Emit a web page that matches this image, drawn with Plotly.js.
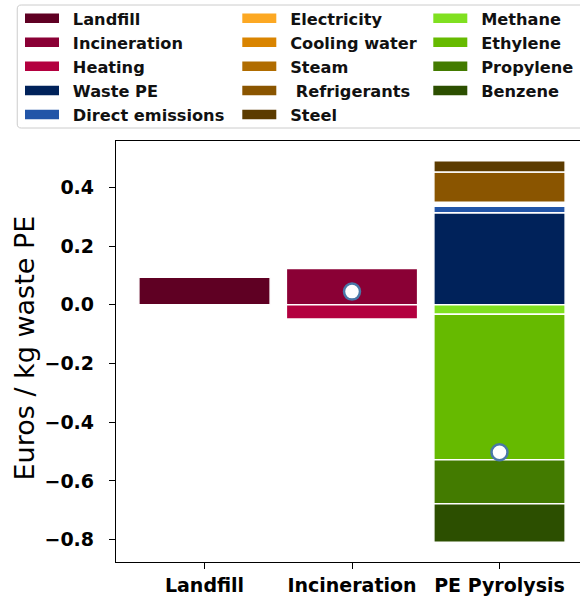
<!DOCTYPE html>
<html>
<head>
<meta charset="utf-8">
<script src="https://cdn.plot.ly/plotly-3.0.1.min.js"></script>
<style>
html, body { margin:0; padding:0; overflow:hidden; background:#fff; }
#chart { width:600px; height:597px; }
</style>
</head>
<body>
<div id="chart"></div>
<script>
// Categories (x axis)
const categories = ['Landfill', 'Incineration', 'PE Pyrolysis'];

// Cost components, Euros / kg waste PE, per category (null = not present)
const landfill        = [0.094, null, null];
const incineration    = [null, 0.124, null];
const heating         = [null, -0.048, null];
const wastePE         = [null, null, 0.314];
const directEmissions = [null, null, 0.022];
const electricity     = [null, null, 0.005];
const coolingWater    = [null, null, 0.004];
const steam           = [null, null, 0.004];
const refrigerants    = [null, null, 0.103];
const steel           = [null, null, 0.039];
const methane         = [null, null, -0.032];
const ethylene        = [null, null, -0.496];
const propylene       = [null, null, -0.150];
const benzene         = [null, null, -0.131];

// Net markers (white dots)
const netCategories = ['Incineration', 'PE Pyrolysis'];
const netValues     = [0.045, -0.502];

// Labels
const yTitle = 'Euros / kg waste PE';
const names = ['Landfill', 'Incineration', 'Heating', 'Waste PE', 'Direct emissions',
               'Electricity', 'Cooling water', 'Steam', ' Refrigerants', 'Steel',
               'Methane', 'Ethylene', 'Propylene', 'Benzene'];
const seriesValues = [landfill, incineration, heating, wastePE, directEmissions,
                      electricity, coolingWater, steam, refrigerants, steel,
                      methane, ethylene, propylene, benzene];
const colors = ['#5f0023', '#8a0035', '#b3003f', '#00225a', '#2255a8',
                '#fca823', '#d98400', '#b06c00', '#8a5500', '#5c3b00',
                '#80e020', '#66ba00', '#437b00', '#2c4f00'];
const legendIds = ['legend','legend','legend','legend','legend',
                   'legend2','legend2','legend2','legend2','legend2',
                   'legend3','legend3','legend3','legend3'];

const pad = '\u00a0\u2009';
const traces = [];
seriesValues.forEach((vals, i) => {
  traces.push({
    type: 'bar', x: categories, y: vals, name: names[i],
    width: 0.89, legendgroup: 'g' + i, showlegend: false,
    marker: { color: colors[i], line: { color: '#ffffff', width: 1.5 } },
    hoverinfo: 'x+y+name'
  });
});
// legend swatches (wide rectangles)
seriesValues.forEach((vals, i) => {
  traces.push({
    type: 'scatter', mode: 'lines', x: [null], y: [null],
    name: pad + names[i].replace(/^ /, '\u00a0'),
    legendgroup: 'g' + i, legend: legendIds[i], showlegend: true,
    line: { color: colors[i], width: 9.5 }, hoverinfo: 'skip'
  });
});
traces.push({
  type: 'scatter', mode: 'markers', x: netCategories, y: netValues,
  showlegend: false, name: 'Net',
  marker: { size: 16, color: '#ffffff', line: { color: '#4a78a8', width: 2.5 } }
});

const legendFont = { family: 'DejaVu Sans', size: 16.2, weight: 'bold', color: '#111' };
const legendBase = {
  xref: 'container', yref: 'container', xanchor: 'left', yanchor: 'top',
  bgcolor: 'rgba(0,0,0,0)', borderwidth: 0, font: legendFont,
  itemwidth: 34, tracegroupgap: 0, orientation: 'v', itemclick: false
};

const plotLeft = 116, plotWidth = 471.7, plotBottom = 562, plotHeight = 421;
const px = v => (v - plotLeft) / plotWidth;
const py = v => (plotBottom - v) / plotHeight;
const bx0 = px(17.3), bx1 = px(598), by0 = py(128), by1 = py(5);
const rx = 4 / plotWidth, ry = 4 / plotHeight;
const boxPath = `M${bx0 + rx},${by1} L${bx1 - rx},${by1} Q${bx1},${by1} ${bx1},${by1 - ry} ` +
  `L${bx1},${by0 + ry} Q${bx1},${by0} ${bx1 - rx},${by0} L${bx0 + rx},${by0} ` +
  `Q${bx0},${by0} ${bx0},${by0 + ry} L${bx0},${by1 - ry} Q${bx0},${by1} ${bx0 + rx},${by1} Z`;

const tickFont = { family: 'DejaVu Sans', size: 19, weight: 'bold', color: '#000' };

const layout = {
  width: 600, height: 597,
  margin: { l: 116, r: 600 - 116 - plotWidth, t: 141, b: 35, pad: 0, autoexpand: false },
  barmode: 'relative',
  paper_bgcolor: '#ffffff', plot_bgcolor: '#ffffff',
  showlegend: true,
  legend:  Object.assign({}, legendBase, { x: 20 / 600, y: 1 - 1.2 / 597 }),
  legend2: Object.assign({}, legendBase, { x: 237.3 / 600, y: 1 - 1.2 / 597 }),
  legend3: Object.assign({}, legendBase, { x: 428.3 / 600, y: 1 - 1.2 / 597 }),
  xaxis: {
    type: 'category', categoryorder: 'array', categoryarray: categories,
    range: [-0.6, 2.6], showgrid: false, zeroline: false,
    showline: true, linecolor: '#000', linewidth: 1.3, mirror: true,
    ticks: 'outside', ticklen: 6, tickwidth: 1.3, tickcolor: '#000',
    tickfont: tickFont, automargin: false
  },
  yaxis: {
    range: [-0.876, 0.558], showgrid: false, zeroline: false,
    showline: true, linecolor: '#000', linewidth: 1.3, mirror: true,
    ticks: 'outside', ticklen: 6, tickwidth: 1.3, tickcolor: '#000',
    tickvals: [-0.8, -0.6, -0.4, -0.2, 0, 0.2, 0.4], tickformat: '.1f',
    tickfont: tickFont, ticklabelstandoff: 11, automargin: false
  },
  annotations: [{
    text: yTitle, xref: 'paper', yref: 'paper', x: px(25), y: py(347.5),
    xanchor: 'center', yanchor: 'middle', textangle: -90, showarrow: false,
    font: { family: 'DejaVu Sans', size: 27, color: '#000' }
  }],
  shapes: [{
    type: 'path', xref: 'paper', yref: 'paper', path: boxPath,
    line: { color: '#cccccc', width: 1 }, fillcolor: '#ffffff', layer: 'below'
  }]
};

Plotly.newPlot('chart', traces, layout, { displayModeBar: false, staticPlot: false });
</script>
</body>
</html>
